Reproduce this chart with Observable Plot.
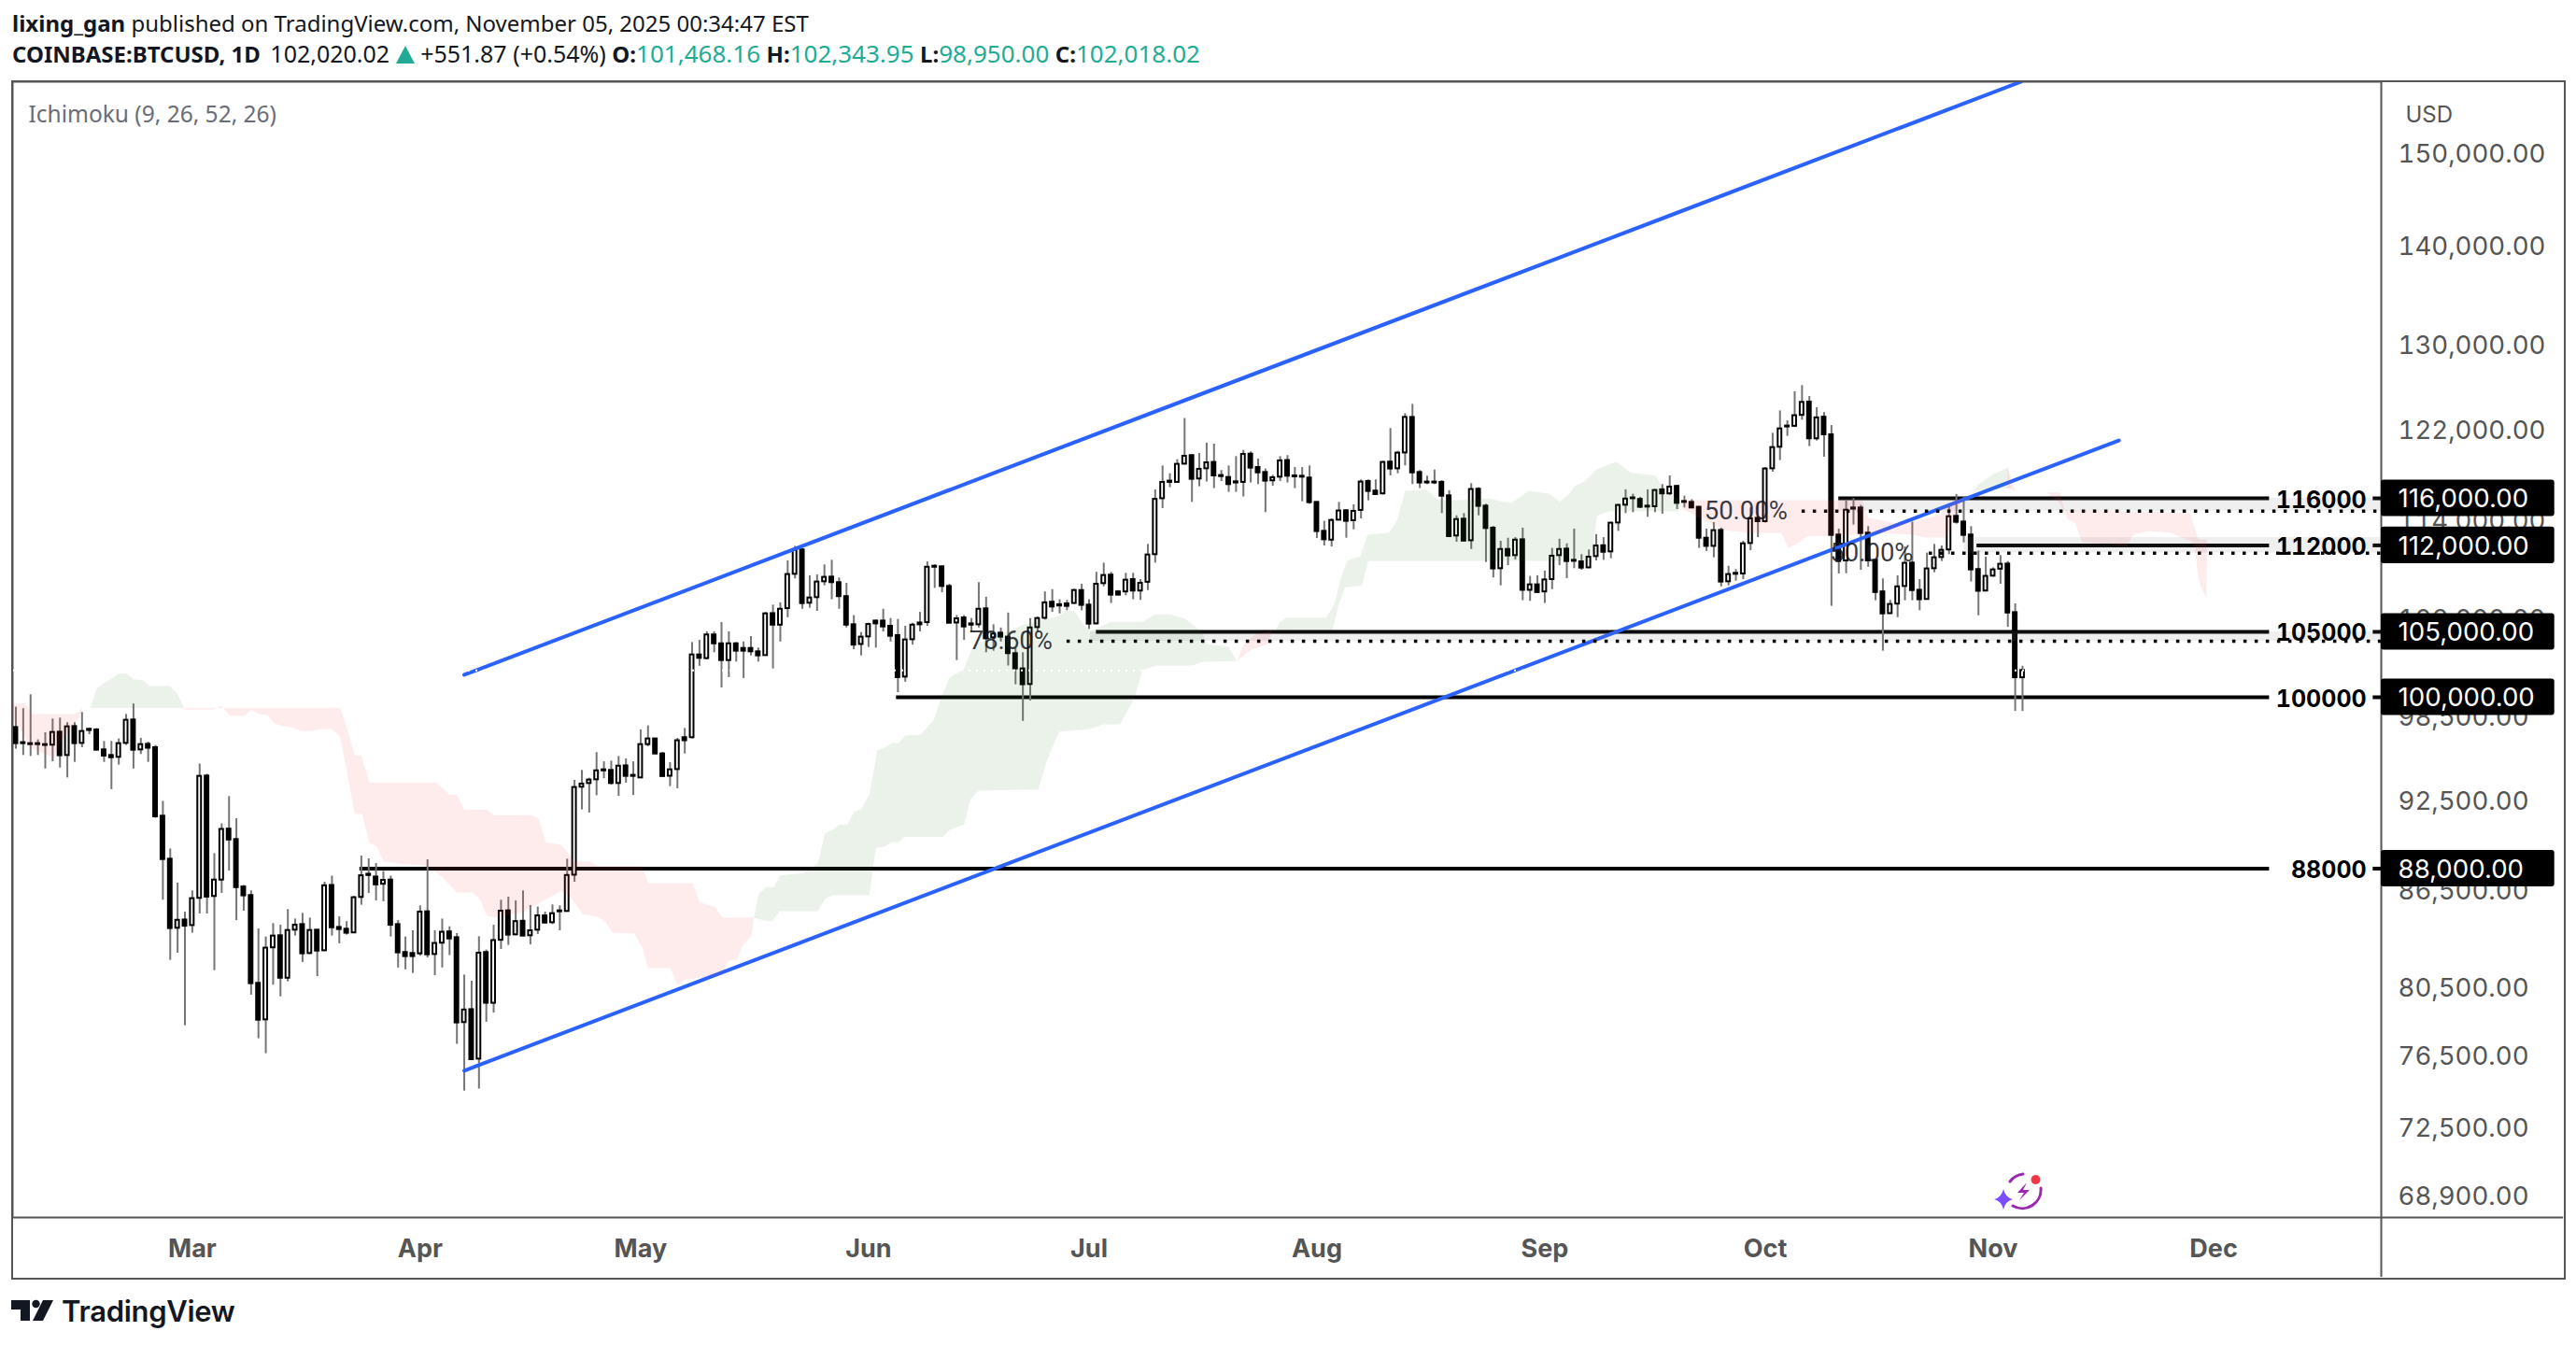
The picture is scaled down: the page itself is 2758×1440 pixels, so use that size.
<!DOCTYPE html>
<html><head><meta charset="utf-8">
<script src="https://cdn.jsdelivr.net/npm/d3@7"></script>
<script src="https://cdn.jsdelivr.net/npm/@observablehq/plot@0.6"></script>
<style>
html,body{margin:0;padding:0;background:#fff;overflow:hidden}
#wrap{position:relative;width:2758px;height:1440px}
#head{height:80px;padding-left:13px;box-sizing:border-box;font-family:"Noto Sans",sans-serif;font-size:24px;color:#131722;line-height:33.4px;padding-top:8px;white-space:nowrap}
#head b{font-weight:700;font-size:24px}
#head .l2{font-size:25px}
#head .t{color:#22ab94;font-size:26px}
#head i{display:inline-block;width:0;height:0;border-left:10px solid transparent;border-right:10px solid transparent;border-bottom:19px solid #22ab94;vertical-align:-1px}
#chart svg{display:block}
#outer{position:absolute;left:12px;top:86px;width:2731px;height:1280px;border:2px solid #555;pointer-events:none}
#foot{height:60px;position:relative;font-family:Inter,sans-serif;font-weight:600;font-size:31px;color:#131722}
#foot span{position:absolute;left:66px;top:5px;letter-spacing:-.3px}
#foot svg{position:absolute;left:0;top:0}
#bolt{position:absolute;left:2130px;top:1245px}
</style></head>
<body><div id="wrap">
<div id="head"><div><b>lixing_gan</b> published on TradingView.com, November 05, 2025 00:34:47 EST</div>
<div class="l2"><b>COINBASE:BTCUSD, 1D</b> <span style="margin-left:4px">102,020.02</span> <i></i> +551.87 (+0.54%) <b>O:</b><span class="t">101,468.16</span> <b>H:</b><span class="t">102,343.95</span> <b>L:</b><span class="t">98,950.00</span> <b>C:</b><span class="t">102,018.02</span></div></div>
<div id="chart"></div>
<div id="foot"><svg width="64" height="60"><path d="M12 12h20v22h-10v-12h-10z M46 12h11l-11 22h-11z" fill="#131722"/><circle cx="38.5" cy="16" r="4.2" fill="#131722"/></svg><span>TradingView</span></div>
<div id="outer"></div>
<svg id="bolt" width="70" height="60" viewBox="2130 1245 70 60">
<path d="M2166 1257a20 20 0 0 0-14 8M2185 1272a20 20 0 0 1-30 19" fill="none" stroke="#9c27b0" stroke-width="3" stroke-linecap="round"/>
<path d="M2170 1266l-10 11h7l-5 8 11-11h-7z" fill="#9c27b0"/>
<circle cx="2179.5" cy="1263" r="5" fill="#f23645"/>
<path d="M2145 1273q2 9 10 11q-8 2-10 11q-2-9-10-11q8-2 10-11z" fill="#7c4dff"/>
</svg>
</div>
<script>
const open=[97770,96670,96600,96600,96530,96490,97430,95750,97840,96620,
97640,97590,96150,95750,95620,96620,98320,96150,96550,96310,
91510,88620,84170,84690,84340,86070,94290,86190,87250,90630,
89930,86800,86250,80780,78610,82950,83700,81090,84050,84400,
82600,84050,82770,86900,84220,84110,83880,86130,87630,87450,
86980,87250,84400,82660,82600,82580,85210,82540,83240,83940,
83580,78450,79210,76340,82660,79590,83420,85270,83760,84610,
83700,84050,84950,84520,85270,85230,87570,93510,93770,94030,
94730,94690,93770,95010,94340,94160,96530,96940,95860,94280,
94750,97030,97030,103210,102930,104760,104070,102780,104070,103710,
103710,103450,103160,106440,105530,106840,109610,111620,107270,107720,
109000,109380,108930,107800,105560,104020,104610,105850,105850,105440,
104710,101520,104390,105700,105730,110270,110220,108620,105700,106100,
105630,105560,106820,104540,104900,104590,103310,102140,100960,105340,
106070,107350,107150,107220,107250,108290,107120,105630,108850,109540,
108180,108180,109180,108250,108960,111230,115970,117500,117390,119000,
119760,117690,118590,119150,117990,117820,117440,117390,119890,118700,
118260,117530,117850,119320,117960,117930,117770,115650,113180,112440,
114130,114930,114080,114960,117470,116630,116390,119180,118590,120000,
123220,118260,117420,117420,117390,116220,112790,114210,112390,116790,
115330,113450,110070,111660,111150,112470,108310,108750,108180,109180,
111150,111690,110760,110630,110140,111070,111970,111460,113890,115410,
116040,115910,115330,115280,116740,116390,117040,115730,115650,115230,
112600,111920,113260,109000,109690,109640,112160,114290,114000,118590,
120510,122430,122410,123410,124640,121270,123240,121630,112870,110710,
115170,115170,113030,110760,108180,106440,107200,108620,110530,108310,
107570,110070,110990,111620,114450,113970,112870,110000,108250,109460,
110030,110450,106520,101468];
const high=[99260,99150,100190,96870,97390,98390,98460,98120,98120,98870,
97700,97700,96760,96760,96940,98730,99500,96980,96710,96470,
92530,89300,87050,85190,86550,95140,94420,88990,90990,92860,
91340,86900,86550,84130,83620,84460,84360,85350,84750,85110,
84810,84070,87110,87510,84890,84590,86190,88830,88640,88330,
87810,87510,84650,83620,84010,85590,88580,84010,84750,84260,
83840,81280,80910,83640,82810,84360,85950,86150,85910,86550,
85610,85510,85190,85650,85590,88620,93990,94690,94140,95960,
95300,95350,95680,95510,95300,97590,97890,96980,95970,95240,
96980,97700,104170,104340,105000,105000,105730,105000,104170,104210,
104630,103740,106540,107120,107300,110710,111920,111750,109490,109560,
110380,110760,109310,108880,106290,104950,105680,105930,106790,106050,
105980,105440,105680,106540,110630,110400,110320,108800,106290,106290,
106050,108930,107750,105560,105310,106490,103740,103380,106050,106170,
108180,108360,107550,107500,108410,108800,107550,109770,110530,109770,
108290,109690,109690,109180,112080,116740,118840,118150,119400,123120,
119810,119950,120870,120790,118430,118840,119670,120230,120090,119450,
118570,118010,119670,119760,118700,118700,118840,115710,114030,114240,
115650,115040,115440,117610,117610,117610,119260,122200,120140,123560,
124430,118430,117930,118480,117550,116660,114500,114690,117280,116930,
115490,113580,112340,112600,112650,113450,109440,109490,109870,111750,
112520,112130,113370,111230,111620,112910,112650,113970,115490,116740,
116360,116090,116740,116790,117200,117960,117110,116190,115890,115310,
113370,113920,113450,110270,110000,112340,115170,115570,118700,121770,
123820,122910,125600,126180,125160,124110,123670,122480,113370,115790,
115970,115390,113580,110840,109230,107500,109490,111870,113970,109180,
111360,112080,111950,115390,116330,116120,113580,111530,111020,110140,
111150,110660,107220,102344];
const low=[96200,95750,95680,95750,94790,95300,94860,94160,95260,96310,
97250,96090,95260,93340,95060,96470,94790,95820,95260,91370,
85950,82180,82620,78270,83860,85070,85070,81550,86390,87850,
84650,85250,80070,77510,76650,80670,79970,80870,83680,82050,
82520,81190,82720,83680,83200,83740,83840,85630,86390,85910,
85850,83620,81710,81600,81380,82430,82330,81250,81710,82470,
77190,74540,76260,74650,78470,79010,82850,83100,83700,83660,
83140,83780,84440,84400,84010,85190,87110,91940,91730,92920,
94100,93660,92880,93790,92940,94140,96380,95800,94200,93550,
93400,95860,96940,102340,102830,103380,100700,101480,102660,101410,
103140,102660,103140,102140,104210,106120,109230,106790,106870,106620,
108670,107550,106790,105310,103610,103140,103790,103740,105000,104210,
100350,101130,103970,105000,105440,108460,108110,105680,102780,104340,
104950,105310,103380,103500,104210,102360,100940,98220,99730,104950,
105930,106540,106420,106670,107170,106670,105190,105560,108590,107250,
107870,107870,107550,107500,108290,110530,115120,116930,117340,118920,
115650,117010,117420,116850,117470,116520,116520,116120,117340,117200,
114770,117060,117470,117340,116850,115710,115490,112580,111950,111870,
114100,112600,113310,114240,115790,116250,116300,117960,118150,118840,
117200,116850,117200,117200,114690,112650,112260,112310,111660,114500,
110580,109310,108670,110320,110790,107470,107420,108050,107250,108360,
110320,109260,110070,109940,110070,110710,110760,110890,113180,114690,
114770,115120,114370,114770,114640,116250,115040,115170,115120,111750,
111490,110970,108590,108670,109050,109180,111560,112650,113890,118290,
119310,121490,122290,122970,120570,121070,119620,107020,109640,109660,
113710,109940,110190,107470,103500,106370,106120,107470,107470,106670,
107550,109740,110660,111230,113790,112210,108980,106270,108230,109380,
108800,105360,98950,98950];
const close=[96600,96600,96530,96530,96470,97410,95730,97820,96600,97480,
97550,96130,95710,95590,96600,98300,96130,96530,96270,91470,
88600,84150,84670,84300,86050,94270,86150,87250,90610,89900,
86760,86230,80760,78590,82930,83680,81090,84030,84360,82580,
84030,82750,86880,84200,84090,83860,86110,87530,87550,86940,
87230,84360,82640,82410,82410,85190,82520,83220,83920,83500,
78430,79190,76310,82620,79590,83400,85250,83740,84590,83680,
84010,84950,84500,85090,85210,87550,93490,93730,94010,94660,
94660,93770,94990,94270,94270,96530,96940,95860,94260,94730,
96810,96810,103210,102950,104760,104070,102780,104070,103500,103500,
103450,103140,106420,105530,106790,109590,111590,107240,107690,108980,
109360,108930,107800,105530,103970,104590,105580,105630,105390,104660,
101480,104370,105530,105560,110190,110190,108620,105680,106030,105390,
105530,106790,104460,104830,104590,103310,102140,100940,105310,106050,
107300,106970,107050,107020,108290,107100,105610,108800,109510,107920,
107920,109130,108250,108880,111200,115910,117390,117390,118980,119700,
117660,118540,119120,117960,117900,117200,117340,119870,118650,118230,
117500,117800,119290,117930,117880,117850,115630,113160,112470,114100,
114910,114030,114880,117420,116600,116330,119150,118570,119980,123220,
118230,117340,117340,117340,116190,112740,114180,112360,116770,115310,
113420,110050,111660,111120,112440,108310,108750,108130,109150,111100,
111660,110660,110680,110120,111020,111950,111430,113870,115390,115940,
115970,115230,115250,116680,116390,116980,115570,115650,115170,112600,
111920,113240,108980,109590,109610,112130,114240,114000,118570,120480,
122170,122350,123380,124610,121270,123180,121630,112840,110660,114980,
115070,113000,110710,108130,106420,107170,108590,110510,108290,107550,
110050,110970,111590,114420,113950,112840,109970,108230,109440,109970,
110430,106490,101470,102018];

// Ichimoku cloud outlines: [days after 5 Feb 2025, price]
const pinkCloudA=[[-.4,99530],[1.3,99530],[2.2,98750],[8.1,98750],[9.1,99210],[8.7,98570],[6.1,96760],[5.2,95510],[4.1,95860],[1.9,96310],[.7,97660],[-.4,98350]];
const greenCloudA=[[10.1,99210],[11,100650],[12,101070],[12.9,101350],[14,101780],[15.1,101780],[16,101350],[17.2,101300],[18.2,100840],[21,100840],[22,100230],[22.9,99210]];
const pinkCloudB=[[22.9,99210],[44.1,99210],[45,97770],[46.1,95750],[47,95750],[48.1,93820],[57.2,93820],[59,92990],[60,92990],[61,91940],[64.1,91940],[65.1,91580],[70.2,91580],[71.1,91340],[72.1,89720],[74,89610],[75,89100],[76,88480],[78.1,88480],[79.1,88170],[84.1,88170],[85.2,88170],[86,87050],[92.1,87050],[93,85810],[95.1,85510],[96.1,84850],[100.4,84850],
[100.1,83740],[99,83200],[98.1,82200],[96.9,82150],[96.1,81300],[91,81000],[90,80700],[89,81700],[86,81700],[85.2,83000],[84.1,83850],[81.2,83880],[80.2,84570],[79.1,84910],[77.1,85050],[76.1,85750],[75,86350],[74.2,86550],[68.8,85150],[65.1,84850],[64.1,84950],[63.1,86050],[62,86450],[60,86450],[58,87450],[56,88170],[52.1,88330],[50,88480],[49.1,89470],[48.1,89720],[47.1,91650],[46.1,91650],[45,94750],[44.1,97110],[43,97660],[41.3,97660],[40.2,97500],[39,97500],[37,97840],[36,97890],[35,98160],[34.2,98690],[33.1,98750],[32,99080],[31.1,98620],[29.1,98640],[28,99380],[26.8,99080],[22.9,99080]];
const greenCloudB=[[100.4,84850],[101.1,86390],[102.1,86800],[103.1,86800],[104,87550],[107.2,87700],[109.1,88340],[110.1,90350],[111.2,90600],[112,90950],[113.1,90950],[114.1,91850],[115,91970],[116.1,93000],[117.2,96100],[118.2,96310],[119.2,96640],[120.1,96640],[121,97190],[123.1,97250],[124.9,98340],[125.5,99380],[127,101470],[128.9,102070],[130.3,103980],[136,105300],[137.1,105560],[141.6,106170],[142.9,106650],[144,106650],[145.3,105500],[146.2,105070],[149,105790],[153.3,105790],[155,106390],[157,106390],[159,106050],[160.1,105550],[161.3,105070],[162.1,104040],[165,103840],[166.1,102740],
[161.3,102670],[160.1,102400],[155.2,102400],[153.3,102060],[152.1,99830],[150.2,98000],[147.9,98000],[146.2,97660],[141.9,97460],[140.2,95300],[139.1,93350],[131,93270],[129.9,92700],[129,90950],[127.1,90600],[126.1,90100],[120.9,90100],[120.1,89750],[119.1,89750],[118.2,89450],[117,89370],[116.1,86270],[111.2,86270],[110.1,86050],[109.1,85250],[103.9,85250],[102.9,84620],[102.1,84620]];
const pinkCloudC=[[166.1,102740],[167,104000],[168.7,104860],[170.9,105070],[170.3,104040],[168,103600]];
const greenCloudC=[[171.3,105070],[172,105790],[172.9,106120],[178.3,106120],[179.4,107200],[180.2,109180],[181.1,110710],[182.9,111100],[183.9,112900],[186.8,113050],[187.9,114100],[189,116650],[191.9,116750],[193.6,115850],[196.4,115850],[200.4,115980],[202.1,115750],[203.5,115600],[205.8,116650],[208.6,116400],[210,115700],[211.4,116400],[212,117060],[213.4,117470],[215.1,118560],[217.7,119200],[219.7,118250],[223.1,117970],[224.5,116400],[226.7,115850],
[226.2,114900],[216.8,114900],[215.1,114500],[214.3,110710],[184,110710],[183.1,108680],[180.8,108550],[180,107200],[179.1,105140]];
const pinkCloudD=[[226.7,115850],[251.2,115850],[252,114300],[253.5,114150],[255.9,113840],[258,113970],[260.1,114300],[261.8,114600],[262.6,115270],[263.9,115850],[264.8,115970],
[262.6,112650],[259.7,112650],[258,112900],[253.7,113050],[247,112770],[243.6,112770],[242.7,112260],[241.1,111800],[240.2,113050],[235.8,113050],[232.1,113300],[226.7,115120]];
const greenCloudD=[[264.8,115970],[266.2,116500],[267,117200],[269,118100],[271,118700],[271.4,116900],[266.4,116650]];
const pinkCloudE=[[271,118700],[272,116650],[271,116900]];
const pinkCloudF=[[276.3,116500],[278.1,116500],[278.7,115000],[295.7,114750],[296.5,113300],[296.9,112500],[298.1,112500],[298,107670],
[297,109050],[296.4,111870],[296.1,112300],[293.1,113050],[290.2,113200],[288,112900],[287.2,111870],[284.7,112130],[281.1,112260],[280.2,113840],[279.1,114230],[278.1,115580]];

const levelValues=[116000,112000,105000,100000,88000];
const levelStart=[248,266.8,147,119.8,46.8];
const levelLabels=["116000","112000","105000","100000","88000"];
const fibValues=[114900,111350,104270];
const fibStart=[243,260.3,143];
const bandTop=[116000,112650,105000];
const bandStart=[248,265,146.2];
const fibLabels=["50.00%","50.00%","78.60%"];
const fibLabelDay=[229.7,246.8,129.7];
const channelDays=[61,286.1,61,272.8];
const channelPrices=[75680,121120,101690,158290];
const channelSide=["lower","lower","upper","upper"];
const yTicks=[150000,140000,130000,122000,114000,106000,98500,92500,86500,80500,76500,72500,68900];
const monthTicks=[2,3,4,5,6,7,8,9,10,11];
const lastPrice=102018;

const day=n=>new Date(Date.UTC(2025,1,5)+n*864e5);
const candles=open.map((o,i)=>({date:day(i),o,h:high[i],l:low[i],c:close[i]}));
const cloud=(pts,color)=>Plot.line(pts,{x:d=>day(d[0]),y:d=>d[1],curve:"linear-closed",fill:color,fillOpacity:.1,stroke:"none",clip:true});
const paneEnd=321.8, lineEnd=306.6, tagEnd=345.4, yMin=67830, yMax=158290;
const fmt=d3.format(",.2f");

const chart=Plot.plot({
  width:2758,height:1300,marginLeft:13,marginRight:209,marginTop:7,marginBottom:77,
  style:{fontFamily:"Inter, sans-serif",background:"#fff",overflow:"visible"},
  x:{type:"utc",domain:[day(-.445),day(paneEnd)]},
  y:{type:"log",domain:[yMin,yMax]},
  marks:[
    Plot.axisX({ticks:monthTicks.map(m=>new Date(Date.UTC(2025,m,1))),tickFormat:d3.utcFormat("%b"),tickSize:0,tickPadding:23,fontSize:27,fontWeight:700,color:"#555",label:null}),
    Plot.axisY({anchor:"right",ticks:yTicks,tickFormat:fmt,tickSize:0,tickPadding:18,fontSize:27.6,color:"#555",label:null}),
    Plot.frame({stroke:"#555",strokeWidth:2}),
    Plot.ruleY([yMin],{x1:day(paneEnd),x2:day(346.6),stroke:"#555",strokeWidth:2}),
    Plot.ruleX([day(paneEnd)],{y1:yMin,y2:64870,stroke:"#555",strokeWidth:2}),
    Plot.ruleY(levelValues,{y:d=>d,x1:(d,i)=>day(levelStart[i]),x2:day(lineEnd),stroke:"#000",strokeWidth:4}),
    Plot.ruleY(levelValues,{y:d=>d,x1:day(320.7),x2:day(paneEnd),stroke:"#000",strokeWidth:4}),
    Plot.ruleX(candles,{x:"date",y1:"l",y2:"h",stroke:"#757575",strokeWidth:2}),
    Plot.rect(candles,{x1:d=>new Date(+d.date-.25*864e5),x2:d=>new Date(+d.date+.25*864e5),y1:"o",y2:"c",fill:d=>d.c>=d.o?"#fff":"#000",stroke:"#000",strokeWidth:2}),
    Plot.line(channelDays.map((d,i)=>({d:day(d),p:channelPrices[i],s:channelSide[i]})),{x:"d",y:"p",z:"s",stroke:"#2962ff",strokeWidth:4,clip:true}),
    Plot.rect(fibValues,{x1:(d,i)=>day(bandStart[i]),x2:day(paneEnd),y1:d=>d,y2:(d,i)=>bandTop[i],fill:"#787b86",fillOpacity:.12}),
    Plot.ruleY(fibValues,{y:d=>d,x1:(d,i)=>day(fibStart[i]),x2:day(paneEnd),stroke:"#000",strokeWidth:3.5,strokeDasharray:"3.5 8.5"}),
    cloud(pinkCloudA,"#f23645"),cloud(greenCloudA,"#2e7d32"),cloud(pinkCloudB,"#f23645"),cloud(greenCloudB,"#2e7d32"),
    cloud(pinkCloudC,"#f23645"),cloud(greenCloudC,"#2e7d32"),cloud(pinkCloudD,"#f23645"),cloud(greenCloudD,"#2e7d32"),
    cloud(pinkCloudE,"#f23645"),cloud(pinkCloudF,"#f23645"),
    Plot.ruleY([lastPrice],{stroke:"#fff",strokeWidth:2,strokeDasharray:"2 6"}),
    Plot.text(fibLabels,{x:(d,i)=>day(fibLabelDay[i]),y:(d,i)=>fibValues[i],text:d=>d,textAnchor:"start",fontSize:27.5,fontFamily:"Roboto, sans-serif",fill:"#131722",fillOpacity:.85}),
    Plot.text(levelLabels,{x:day(319.8),y:(d,i)=>levelValues[i],text:d=>d,textAnchor:"end",dy:2,fontSize:25,fontWeight:700,fontVariant:"tabular-nums",fill:"#000"}),
    Plot.rect(levelValues,{x1:day(paneEnd),x2:day(tagEnd),y1:d=>d*1.0137,y2:d=>d/1.0137,fill:"#000",rx:3}),
    Plot.text(levelValues,{x:day(324.1),y:d=>d,text:d=>fmt(d),textAnchor:"start",dy:1,fontSize:27.6,fill:"#fff"}),
    Plot.text(["Ichimoku (9, 26, 52, 26)"],{frameAnchor:"top-left",dx:17,dy:26,textAnchor:"start",fontSize:24.5,fontFamily:"Noto Sans, sans-serif",fill:"#6a6d78"}),
    Plot.text(["USD"],{frameAnchor:"top-right",dx:26,dy:26,textAnchor:"start",fontSize:24,fill:"#555"})
  ]
});
document.getElementById("chart").appendChild(chart);
</script>
</body></html>
